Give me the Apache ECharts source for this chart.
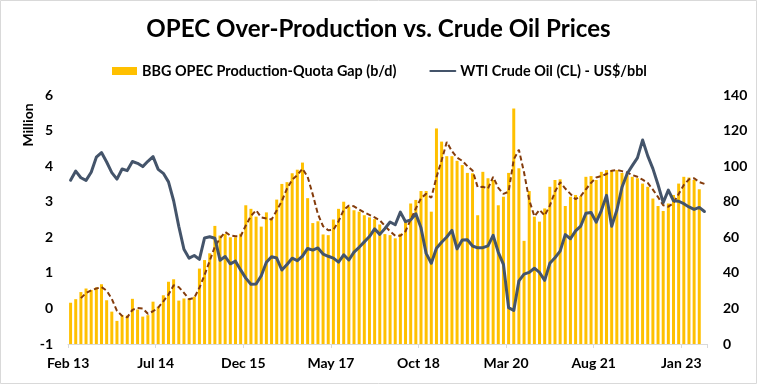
<!DOCTYPE html>
<html><head><meta charset="utf-8">
<script src="https://cdn.jsdelivr.net/npm/echarts@6/dist/echarts.min.js"></script>
<style>html,body{margin:0;padding:0;background:#fff}#c{width:757px;height:384px}</style>
</head><body><div id="c"></div>
<script>
// ---------- DATA ----------
const titleText = 'OPEC Over-Production vs. Crude Oil Prices';
const gapName = 'BBG OPEC Production-Quota Gap (b/d)';
const wtiName = 'WTI Crude Oil (CL) - US$/bbl';
const avgName = '3 per. Mov. Avg. (BBG OPEC Production-Quota Gap (b/d))';
const leftAxisName = 'Million';

// monthly categories, Feb 2013 .. May 2023
const monthNames = ['Jan','Feb','Mar','Apr','May','Jun','Jul','Aug','Sep','Oct','Nov','Dec'];
const firstYear = 2013, firstMonth = 1, monthCount = 124;
const categories = [];
for (let k = 0; k < monthCount; k++) {
  const m = (firstMonth + k) % 12;
  const y = firstYear + Math.floor((firstMonth + k) / 12);
  categories.push(monthNames[m] + ' ' + String(y % 100).padStart(2, '0'));
}
const tickLabels = ['Feb 13','Jul 14','Dec 15','May 17','Oct 18','Mar 20','Aug 21','Jan 23'];

const leftTicks = [-1, 0, 1, 2, 3, 4, 5, 6];
const rightTicks = [0, 20, 40, 60, 80, 100, 120, 140];

// OPEC production minus quota, million b/d (Feb 13 .. Apr 23)
const gapValues = [
  0.16, 0.26, 0.46, 0.56, 0.52, 0.59, 0.68, 0.23, -0.09, -0.35, -0.19,
  -0.20, 0.27, -0.03, -0.23, -0.19, 0.19, 0.05, 0.37, 0.75, 0.82, 0.22, 0.28,
  0.28, 0.33, 1.12, 1.36, 1.55, 2.32, 2.05, 2.09, 2.00, 2.00, 2.10, 2.90,
  2.80, 2.58, 2.30, 2.70, 2.50, 3.06, 3.50, 3.55, 3.80, 3.90, 4.10, 3.10,
  2.40, 2.45, 2.08, 2.06, 2.50, 2.80, 3.00, 2.86, 2.76, 2.72, 2.62, 2.56,
  2.51, 2.36, 2.09, 2.06, 1.97, 2.10, 2.44, 2.95, 3.05, 3.30, 3.30, 2.72,
  5.06, 4.69, 4.28, 4.28, 4.15, 4.03, 3.81, 3.80, 2.62, 3.84, 3.66, 3.61,
  2.90, 3.14, 3.81, 5.62, 3.94, 1.90, 3.30, 2.58, 2.44, 2.81, 3.42, 3.61,
  3.63, 2.88, 3.14, 3.19, 3.16, 3.70, 3.72, 3.61, 3.84, 3.89, 3.89, 3.89,
  3.81, 3.75, 3.70, 3.66, 3.51, 3.42, 3.09, 2.88, 2.74, 2.95, 3.19, 3.51,
  3.70, 3.68, 3.61, 3.35, null
];

// dashed moving-average trend line of the gap
const gapAvgValues = [
  null, null, 0.29, 0.43, 0.51, 0.56, 0.60, 0.50, 0.27, -0.07, -0.21,
  -0.25, -0.04, 0.01, 0.00, -0.15, -0.08, 0.02, 0.20, 0.39, 0.65, 0.60, 0.44,
  0.26, 0.30, 0.58, 0.94, 1.34, 1.74, 1.97, 2.15, 2.05, 2.03, 2.03, 2.33,
  2.60, 2.76, 2.56, 2.53, 2.50, 2.75, 3.02, 3.37, 3.62, 3.75, 3.93, 3.70,
  3.20, 2.65, 2.31, 2.20, 2.21, 2.45, 2.77, 2.89, 2.87, 2.78, 2.70, 2.63,
  2.56, 2.48, 2.32, 2.17, 2.04, 2.04, 2.17, 2.50, 2.81, 3.10, 3.22, 3.11,
  3.69, 4.16, 4.68, 4.42, 4.24, 4.15, 4.00, 3.88, 3.41, 3.42, 3.37, 3.70,
  3.39, 3.22, 3.28, 4.19, 4.46, 3.82, 3.05, 2.59, 2.77, 2.61, 2.89, 3.28,
  3.55, 3.37, 3.22, 3.07, 3.16, 3.35, 3.53, 3.68, 3.72, 3.78, 3.87, 3.89,
  3.86, 3.82, 3.75, 3.70, 3.62, 3.53, 3.34, 3.13, 2.90, 2.86, 2.96, 3.22,
  3.47, 3.63, 3.66, 3.55, 3.50
];

// WTI crude, US$/bbl (Feb 13 .. May 23)
const wtiValues = [
  92.05, 97.23, 93.46, 91.97, 96.56, 105.03, 107.65, 102.33, 96.38, 92.72, 98.42,
  97.49, 102.59, 101.58, 99.74, 102.71, 105.37, 98.17, 95.96, 91.16, 80.54, 66.15, 53.27,
  48.24, 49.76, 47.60, 59.63, 60.30, 59.47, 47.12, 49.20, 45.09, 46.59, 41.65, 37.04,
  33.62, 33.75, 38.34, 45.92, 49.10, 48.33, 41.60, 44.70, 48.24, 46.86, 49.44, 53.72,
  52.81, 54.01, 50.60, 49.33, 48.32, 46.04, 50.17, 47.23, 51.67, 54.38, 57.40, 60.42,
  64.73, 61.64, 64.94, 68.57, 67.04, 74.15, 68.76, 69.80, 73.25, 65.31, 50.93, 45.41,
  53.79, 57.22, 60.14, 63.91, 53.50, 58.47, 58.58, 55.10, 54.07, 54.18, 55.17, 61.06,
  51.56, 44.76, 20.48, 18.84, 35.49, 39.27, 40.27, 42.61, 40.22, 35.79, 45.34, 48.52,
  52.20, 61.50, 59.16, 63.58, 66.32, 73.47, 73.95, 68.50, 75.03, 83.57, 66.18, 75.21,
  88.15, 95.72, 100.28, 104.69, 114.67, 105.76, 98.62, 89.55, 79.49, 86.53, 80.55, 80.26,
  78.87, 77.05, 75.67, 76.78, 74.50
];

// ---------- STYLE ----------
const FONT = "Lato, 'Liberation Sans', sans-serif";
const gapColor = '#FFC000';
const wtiColor = '#44546A';
const avgColor = '#843C0C';
const axisGray = '#D9D9D9';

function fitSize(text, target) {
  const ctx = document.createElement('canvas').getContext('2d');
  ctx.font = 'bold 100px ' + FONT;
  return Math.round(100 * target / ctx.measureText(text).width * 10) / 10;
}
const titleSize = fitSize(titleText, 465);
const legendSize = (fitSize(gapName, 257) + fitSize(wtiName, 185)) / 2;

const chart = echarts.init(document.getElementById('c'), null, { renderer: 'canvas' });
const showTick = (idx, val) => tickLabels.indexOf(val) >= 0;

chart.setOption({
  animation: false,
  backgroundColor: '#fff',
  title: {
    text: titleText, left: 'center', top: 12,
    textStyle: { fontFamily: FONT, fontWeight: 'bold', fontSize: titleSize, color: '#000' }
  },
  legend: {
    left: 107, top: 59, itemWidth: 25, itemHeight: 8, itemGap: 33,
    textStyle: { fontFamily: FONT, fontWeight: 'bold', fontSize: legendSize, color: '#000' },
    data: [
      { name: gapName, icon: 'rect' },
      { name: wtiName, itemStyle: { color: 'rgba(0,0,0,0)', borderColor: 'rgba(0,0,0,0)', borderWidth: 0 } }
    ]
  },
  grid: { left: 68, right: 50, top: 95, bottom: 40, containLabel: false, outerBoundsMode: 'none' },
  xAxis: {
    type: 'category', data: categories, boundaryGap: true,
    axisLine: { show: true, onZero: false, lineStyle: { color: axisGray, width: 1 } },
    axisTick: { show: true, interval: showTick, length: 4, lineStyle: { color: axisGray } },
    axisLabel: {
      interval: showTick, margin: 12, padding: [0, 5, 0, 0],
      fontFamily: FONT, fontWeight: 'bold', fontSize: 14, color: '#000'
    },
    splitLine: { show: false }
  },
  yAxis: [{
    type: 'value', min: leftTicks[0], max: leftTicks[leftTicks.length - 1], interval: 1,
    axisLine: { show: false }, axisTick: { show: false }, splitLine: { show: false },
    axisLabel: { margin: 15, fontFamily: FONT, fontWeight: 'bold', fontSize: 14, color: '#000' }
  }, {
    type: 'value', min: rightTicks[0], max: rightTicks[rightTicks.length - 1], interval: 20,
    position: 'right',
    axisLine: { show: false }, axisTick: { show: false }, splitLine: { show: false },
    axisLabel: { margin: 16, fontFamily: FONT, fontWeight: 'bold', fontSize: 14, color: '#000' }
  }],
  series: [{
    type: 'custom', name: gapName, xAxisIndex: 0, yAxisIndex: 0,
    data: gapValues.map((v, i) => [i, v]),
    encode: { x: 0, y: 1 },
    itemStyle: { color: gapColor },
    renderItem: function (params, api) {
      const v = api.value(1);
      if (v == null || isNaN(v)) return null;
      const i = api.value(0);
      const top = api.coord([i, v]);
      const base = api.coord([i, leftTicks[0]]);
      const w = api.size([1, 0])[0] * 0.58;
      return {
        type: 'rect',
        shape: { x: top[0] - w / 2, y: top[1], width: w, height: base[1] - top[1] },
        style: { fill: gapColor }
      };
    },
    z: 1
  }, {
    type: 'line', name: avgName, yAxisIndex: 0, data: gapAvgValues,
    symbol: 'none', showSymbol: false, connectNulls: false,
    lineStyle: { color: avgColor, width: 2, type: [5, 3] },
    z: 3
  }, {
    type: 'line', name: wtiName, yAxisIndex: 1, data: wtiValues,
    symbol: 'none', showSymbol: false,
    itemStyle: { color: wtiColor },
    lineStyle: { color: wtiColor, width: 3, join: 'round', cap: 'round' },
    z: 4
  }],
  graphic: [{
    type: 'rect', silent: true, z: 100,
    shape: { x: 0.5, y: 0.5, width: 756, height: 383 },
    style: { fill: 'none', stroke: axisGray, lineWidth: 1 }
  }, {
    type: 'text', silent: true, x: 28, y: 125, rotation: Math.PI / 2,
    style: {
      text: leftAxisName, textAlign: 'center', textVerticalAlign: 'middle',
      align: 'center', verticalAlign: 'middle',
      font: 'bold 14px ' + FONT, fill: '#000'
    }
  }]
});
</script>
</body></html>
